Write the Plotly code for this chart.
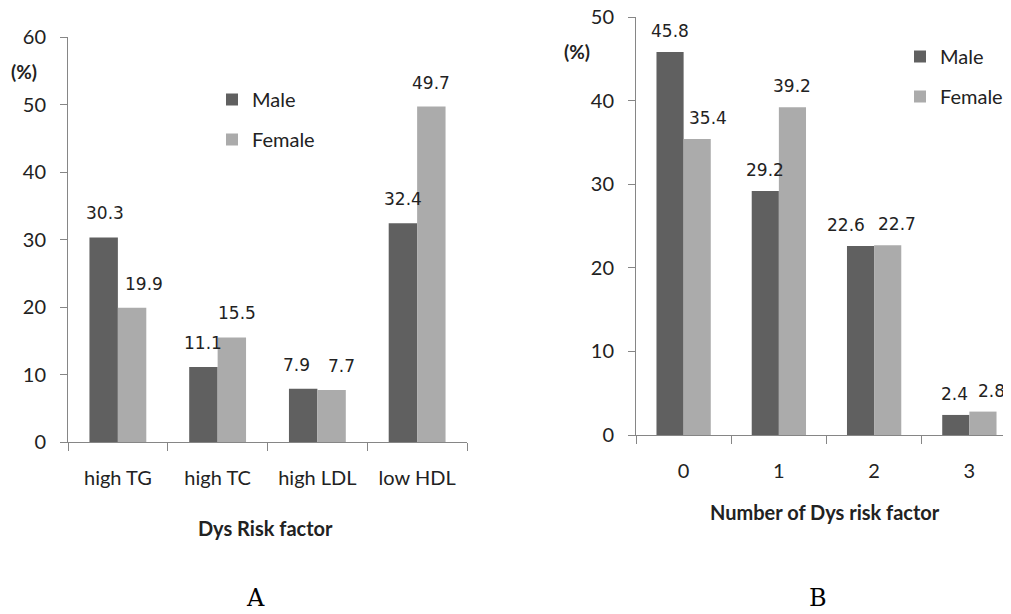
import plotly.graph_objects as go

# ---- data ----
cats_a = ["high TG", "high TC", "high LDL", "low HDL"]
male_a = [30.3, 11.1, 7.9, 32.4]
female_a = [19.9, 15.5, 7.7, 49.7]

cats_b = ["0", "1", "2", "3"]
male_b = [45.8, 29.2, 22.6, 2.4]
female_b = [35.4, 39.2, 22.7, 2.8]

series_names = ["Male", "Female"]
y_ticks_a = [0, 10, 20, 30, 40, 50, 60]
y_ticks_b = [0, 10, 20, 30, 40, 50]

# ---- style ----
W, H = 1011, 614
OFF = 8  # page body margin of the browser
MALE = "#606060"
FEMALE = "#ababab"
AXIS = "#868686"
TXT = "#222222"
SANS = "Lato"
VAL = "DejaVu Sans"
BARGAP = 0.43
# horizontal nudges (px) of the value labels, as placed in the reference to avoid overlaps
nudge_a_m = [1, 0, -7, 0]
nudge_a_f = [12, 5, 10, 0]
nudge_b_m = [0, 0, -15, -1]
nudge_b_f = [11, 0, 9, 9]

FW, FH = W - OFF, H - OFF


def px(x):
    return (x - OFF) / FW


def py(y):
    return 1 - (y - OFF) / FH


fig = go.Figure()
fig.add_trace(go.Bar(x=cats_a, y=male_a, name=series_names[0], marker_color=MALE,
                     xaxis="x", yaxis="y", legend="legend", legendgroup="am"))
fig.add_trace(go.Bar(x=cats_a, y=female_a, name=series_names[1], marker_color=FEMALE,
                     xaxis="x", yaxis="y", legend="legend", legendgroup="af"))
fig.add_trace(go.Bar(x=cats_b, y=male_b, name=series_names[0], marker_color=MALE,
                     xaxis="x2", yaxis="y2", legend="legend2", legendgroup="bm"))
fig.add_trace(go.Bar(x=cats_b, y=female_b, name=series_names[1], marker_color=FEMALE,
                     xaxis="x2", yaxis="y2", legend="legend2", legendgroup="bf"))
fig.update_traces(marker_line_width=0, hoverinfo="skip")

tickfont = dict(family=SANS, size=20, color=TXT)
xcommon = dict(type="category", showline=True, linecolor=AXIS, linewidth=1,
               ticks="outside", tickson="boundaries", ticklen=8, tickcolor=AXIS,
               tickfont=tickfont, ticklabelstandoff=18, showgrid=False, zeroline=False,
               automargin=False, ticklabeloverflow="allow")
ycommon = dict(showline=True, linecolor=AXIS, linewidth=1, ticks="outside", ticklen=7,
               tickcolor=AXIS, tickfont=tickfont, ticklabelstandoff=10,
               showgrid=False, zeroline=False, automargin=False,
               ticklabeloverflow="allow")

legend_common = dict(xanchor="left", yanchor="top", bgcolor="rgba(0,0,0,0)",
                     font=dict(family=SANS, size=20, color=TXT), tracegroupgap=11)

fig.update_layout(
    template="none",
    width=FW, height=FH, margin=dict(l=0, r=0, t=0, b=0, pad=0, autoexpand=False),
    paper_bgcolor="white", plot_bgcolor="white",
    barmode="group", bargap=BARGAP, bargroupgap=0,
    xaxis=dict(domain=[px(68), px(467)], anchor="y", range=[-0.5, 3.5], **xcommon),
    yaxis=dict(domain=[py(442), py(37)], anchor="x", range=[0, 60],
               tickvals=y_ticks_a, **ycommon),
    xaxis2=dict(domain=[px(636), 1.0], anchor="y2", range=[-0.5, 3.5 - 6 / 95.3], **xcommon),
    yaxis2=dict(domain=[py(435), py(17)], anchor="x2", range=[0, 50],
                tickvals=y_ticks_b, **ycommon),
    legend=dict(x=px(212), y=py(80), **legend_common),
    legend2=dict(x=px(900), y=py(37), **legend_common),
    showlegend=True,
)

off = (1 - BARGAP) / 4
ann = []
for xa, ya, vals, nudges, sign, shift in [
    ("x", "y", male_a, nudge_a_m, -1, 24), ("x", "y", female_a, nudge_a_f, 1, 24),
    ("x2", "y2", male_b, nudge_b_m, -1, 21), ("x2", "y2", female_b, nudge_b_f, 1, 21),
]:
    for i, v in enumerate(vals):
        ann.append(dict(x=i + sign * off, y=v, xref=xa, yref=ya, text=f"{v:.1f}",
                        showarrow=False, yanchor="middle", xanchor="center",
                        yshift=shift, xshift=nudges[i],
                        font=dict(family=VAL, size=17, color=TXT)))

lab_bold = dict(family=SANS, size=19, color=TXT, weight="bold")
title_font = dict(family=SANS, size=20, color=TXT, weight="bold")
serif = dict(family="DejaVu Serif", size=24, color="#000000")
for x, y, t, f in [
    (24, 72, "(%)", lab_bold),
    (577, 52, "(%)", lab_bold),
    (265, 528, "Dys Risk factor", title_font),
    (825, 512, "Number of Dys risk factor", title_font),
    (255, 598, "A", serif),
    (818, 598, "B", serif),
]:
    ann.append(dict(x=px(x), y=py(y), xref="paper", yref="paper", text=t, showarrow=False,
                    xanchor="center", yanchor="middle", font=f))
fig.update_layout(annotations=ann)

fig.write_html("out.html")
